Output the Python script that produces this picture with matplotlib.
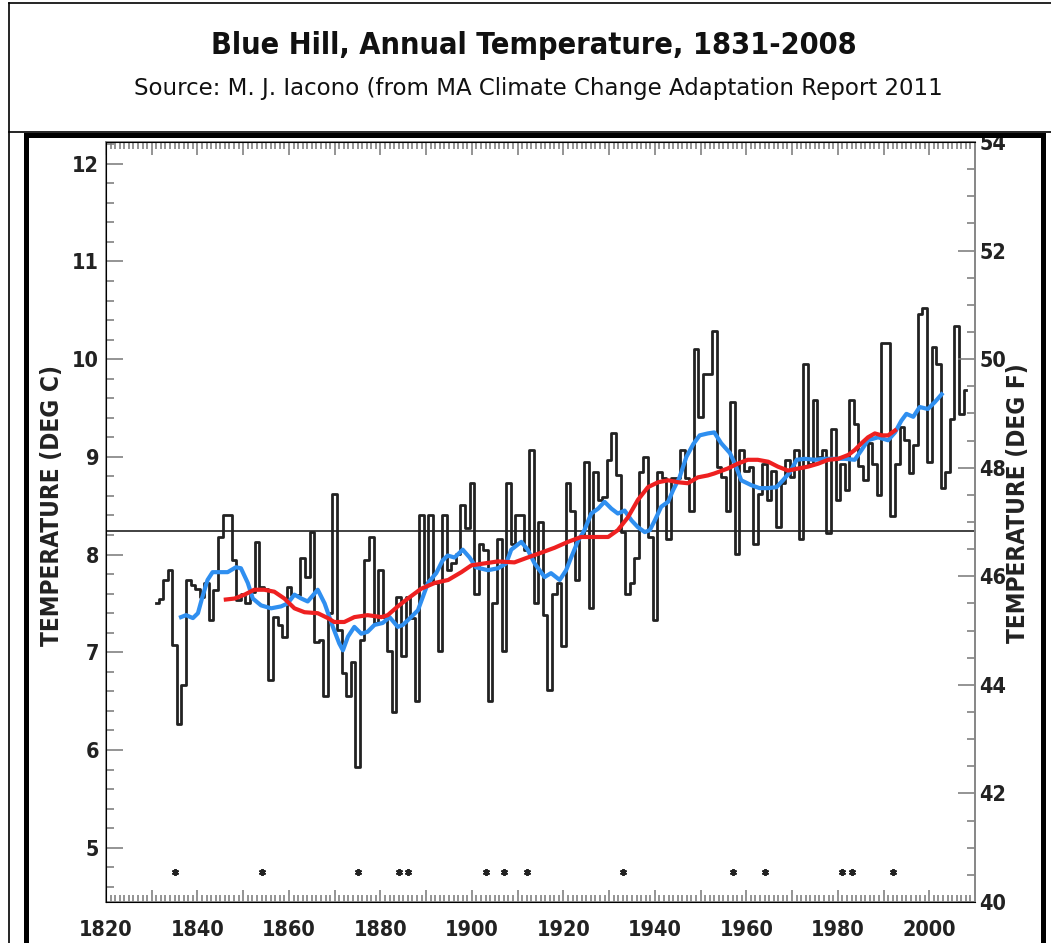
# Blue Hill annual temperature 1831-2008 (step chart + smoothers)
import numpy as np
import matplotlib
matplotlib.use('Agg')
import matplotlib.pyplot as plt
from matplotlib.lines import Line2D
from matplotlib.ticker import MultipleLocator
from matplotlib import font_manager
#==============================================================

first_year = 1831
# annual mean temperature (deg C), one value per year, 1831..2008
temps = [
    7.50, 7.55, 7.74, 7.84, 7.07, 6.27, 6.67, 7.74, 7.69, 7.65,   # 1831-1840
    7.57, 7.71, 7.33, 7.64, 8.18, 8.40, 8.40, 7.94, 7.53, 7.60,   # 1841-1850
    7.50, 7.62, 8.13, 7.67, 7.65, 6.72, 7.36, 7.28, 7.16, 7.67,   # 1851-1860
    7.59, 7.59, 7.96, 7.77, 8.23, 7.11, 7.13, 6.55, 7.40, 8.62,   # 1861-1870
    7.23, 6.79, 6.55, 6.90, 5.83, 7.13, 7.94, 8.18, 7.30, 7.84,   # 1871-1880
    7.36, 7.01, 6.39, 7.57, 6.96, 7.57, 7.35, 6.50, 8.40, 7.71,   # 1881-1890
    8.40, 7.71, 7.01, 8.40, 7.84, 7.91, 8.01, 8.51, 8.27, 8.73,   # 1891-1900
    7.60, 8.11, 8.05, 6.50, 7.50, 8.16, 7.01, 8.73, 8.11, 8.40,   # 1901-1910
    8.40, 8.05, 9.07, 7.50, 8.33, 7.38, 6.61, 7.60, 7.71, 7.06,   # 1911-1920
    8.73, 8.45, 7.74, 8.18, 8.95, 7.45, 8.85, 8.56, 8.59, 8.97,   # 1921-1930
    9.24, 8.81, 8.23, 7.60, 7.71, 7.96, 8.85, 9.00, 8.18, 7.33,   # 1931-1940
    8.85, 8.78, 8.16, 8.78, 8.78, 9.07, 8.78, 8.45, 10.10, 9.41,  # 1941-1950
    9.85, 9.85, 10.29, 8.90, 8.79, 8.45, 9.56, 8.01, 9.07, 8.86,  # 1951-1960
    8.90, 8.11, 8.62, 8.93, 8.56, 8.86, 8.28, 8.73, 8.97, 8.79,   # 1961-1970
    9.07, 8.16, 9.95, 8.93, 9.58, 9.00, 9.07, 8.22, 9.29, 8.56,   # 1971-1980
    8.93, 8.66, 9.58, 9.34, 8.91, 8.76, 9.14, 8.93, 8.61, 10.17,  # 1981-1990
    10.17, 8.39, 8.93, 9.31, 9.17, 8.83, 9.12, 10.46, 10.52, 8.95,  # 1991-2000
    10.12, 9.95, 8.68, 8.85, 9.39, 10.34, 9.44, 9.68,             # 2001-2008
]

# short-term smoother (blue)
blue_yr = [1836.4, 1837.5, 1839.0, 1840.1, 1841.1, 1842.2, 1843.3, 1846.6, 1848.4, 1849.5,
           1851.0, 1852.1, 1853.9, 1856.1, 1858.3, 1859.7, 1861.2, 1862.7, 1864.1, 1866.3,
           1867.8, 1869.6, 1871.0, 1871.8, 1872.9, 1874.3, 1875.8, 1877.2, 1878.7, 1880.5,
           1882.0, 1883.8, 1884.9, 1886.7, 1888.2, 1890.4, 1892.2, 1893.6, 1894.7, 1896.2,
           1898.0, 1899.5, 1900.9, 1903.5, 1905.7, 1907.5, 1908.6, 1910.8, 1912.2, 1913.7,
           1915.9, 1917.3, 1919.2, 1920.6, 1921.7, 1923.2, 1924.6, 1926.1, 1927.6, 1929.0,
           1930.5, 1931.9, 1933.4, 1934.9, 1936.3, 1937.8, 1938.9, 1940.0, 1941.4, 1942.9,
           1944.0, 1945.4, 1946.9, 1948.4, 1949.8, 1951.6, 1953.0, 1954.5, 1956.4, 1957.5,
           1958.9, 1961.1, 1962.9, 1964.8, 1966.6, 1968.0, 1969.5, 1971.0, 1972.8, 1975.0,
           1977.1, 1979.3, 1981.5, 1983.7, 1985.2, 1986.6, 1988.8, 1991.0, 1992.5, 1993.9,
           1995.0, 1996.5, 1997.9, 1999.7, 2001.2, 2002.7]
blue_val = [7.36, 7.38, 7.35, 7.40, 7.57, 7.74, 7.82, 7.82, 7.87, 7.86,
            7.71, 7.55, 7.48, 7.45, 7.47, 7.50, 7.59, 7.55, 7.52, 7.64,
            7.50, 7.26, 7.09, 7.02, 7.16, 7.26, 7.19, 7.21, 7.28, 7.30,
            7.36, 7.26, 7.28, 7.36, 7.43, 7.71, 7.81, 7.94, 7.99, 7.97,
            8.05, 7.97, 7.87, 7.84, 7.86, 7.91, 8.05, 8.13, 8.05, 7.91,
            7.77, 7.81, 7.74, 7.84, 7.97, 8.14, 8.25, 8.42, 8.47, 8.54,
            8.47, 8.42, 8.45, 8.35, 8.28, 8.23, 8.25, 8.35, 8.49, 8.54,
            8.66, 8.79, 9.00, 9.13, 9.22, 9.24, 9.25, 9.14, 9.04, 8.93,
            8.76, 8.71, 8.68, 8.68, 8.69, 8.76, 8.84, 8.97, 8.98, 8.97,
            8.98, 8.98, 8.98, 8.97, 9.07, 9.17, 9.20, 9.17, 9.25, 9.37,
            9.44, 9.41, 9.51, 9.49, 9.56, 9.64]

# long-term smoother (red)
red_yr = [1846.2, 1848.1, 1850.3, 1852.4, 1854.6, 1856.8, 1859.0, 1861.2, 1863.4, 1866.3,
          1868.5, 1869.9, 1872.1, 1874.3, 1877.2, 1880.2, 1881.6, 1883.8, 1886.0, 1888.9,
          1891.9, 1894.8, 1897.7, 1899.9, 1902.8, 1905.7, 1909.3, 1912.2, 1915.2, 1918.1,
          1921.0, 1923.9, 1926.8, 1929.8, 1931.9, 1934.1, 1936.3, 1938.5, 1940.7, 1942.9,
          1945.1, 1947.2, 1949.4, 1951.6, 1953.0, 1955.9, 1958.1, 1960.3, 1962.5, 1964.8,
          1966.9, 1969.1, 1971.3, 1973.5, 1975.7, 1977.9, 1980.1, 1982.3, 1983.7, 1985.2,
          1986.6, 1988.1, 1989.6, 1991.0, 1992.5]
red_val = [7.54, 7.55, 7.59, 7.64, 7.64, 7.62, 7.55, 7.45, 7.41, 7.40,
           7.35, 7.31, 7.31, 7.36, 7.38, 7.36, 7.38, 7.47, 7.55, 7.65,
           7.71, 7.74, 7.82, 7.89, 7.91, 7.93, 7.92, 7.97, 8.02, 8.07,
           8.13, 8.18, 8.18, 8.18, 8.25, 8.38, 8.56, 8.69, 8.74, 8.76,
           8.74, 8.73, 8.79, 8.81, 8.83, 8.88, 8.93, 8.97, 8.97, 8.95,
           8.90, 8.86, 8.88, 8.90, 8.93, 8.97, 8.98, 9.02, 9.07, 9.14,
           9.20, 9.24, 9.22, 9.22, 9.27]

# years marked with an asterisk along the bottom
star_yr = [1835, 1854, 1875, 1884, 1886, 1903, 1907, 1912, 1933, 1957, 1964, 1981, 1983, 1992]
star_level = 4.75
mean_line = 8.24

xtick_pos = [1820, 1830, 1840, 1850, 1860, 1870, 1880, 1890, 1900, 1910,
             1920, 1930, 1940, 1950, 1960, 1970, 1980, 1990, 2000, 2010]
xtick_lab = ['1820', '', '1840', '', '1860', '', '1880', '', '1900', '',
             '1920', '', '1940', '', '1960', '', '1980', '', '2000', '']
yC_ticks = [5, 6, 7, 8, 9, 10, 11, 12]
yF_ticks = [40, 42, 44, 46, 48, 50, 52, 54]

title = 'Blue Hill, Annual Temperature, 1831-2008'
subtitle = 'Source: M. J. Iacono (from MA Climate Change Adaptation Report 2011'
#==============================================================

def main():
    W, H = 1051, 943
    fig = plt.figure(figsize=(W/100, H/100), dpi=100)
    fig.patch.set_facecolor('white')

    # condensed bold face for the numbers and axis titles
    fp_num = font_manager.FontProperties(family=['DejaVu Sans'], weight='bold',
                                         stretch='condensed', size=15.5)
    fp_title = font_manager.FontProperties(family=['DejaVu Sans'], weight='bold',
                                           stretch='condensed', size=22)
    fp_sub = font_manager.FontProperties(family=['DejaVu Sans'], size=16.5)
    fp_lab = font_manager.FontProperties(family=['DejaVu Sans'], weight='bold',
                                         stretch='condensed', size=17.5)

    # frames around the header and the chart
    def px(x, y):
        return x/W, 1 - y/H
    x0, y0 = px(9, 3)
    fig.add_artist(Line2D([x0, x0], [0, y0], color='black', lw=1.2))
    fig.add_artist(Line2D([x0, 1], [y0, y0], color='black', lw=1.2))
    fig.add_artist(Line2D([x0, 1], [px(0, 132)[1]]*2, color='black', lw=1.2))
    l, t = px(26, 135)
    r, _ = px(1043, 0)
    fig.add_artist(Line2D([l, l, r, r], [0, t, t, 0], color='black', lw=3.6,
                          solid_joinstyle='miter'))

    fig.text(0.508, px(0, 46)[1], title, ha='center', va='center',
             fontproperties=fp_title, color='#111')
    fig.text(0.512, px(0, 89)[1], subtitle, ha='center', va='center',
             fontproperties=fp_sub, color='#111')

    ax = fig.add_axes([106/W, 1 - 902/H, (975-106)/W, (902-142)/H])
    years = np.arange(first_year, first_year + len(temps))

    ax.axhline(mean_line, color='#333', lw=1.3)
    ax.step(years, temps, where='mid', color='#222', lw=2.0)
    ax.plot(blue_yr, blue_val, color='#2f8ff0', lw=3.0)
    ax.plot(red_yr, red_val, color='#ee2020', lw=3.0)
    ax.plot(star_yr, [star_level]*len(star_yr), ls='', marker=(6, 2, 0), ms=5,
            mew=1.4, color='#222')

    ax.set_xlim(1820, 2010)
    ax.set_ylim((40-32)*5/9, (54-32)*5/9)
    ax.set_xticks(xtick_pos)
    ax.set_xticklabels(xtick_lab)
    ax.xaxis.set_minor_locator(MultipleLocator(1))
    ax.set_yticks(yC_ticks)
    ax.yaxis.set_minor_locator(MultipleLocator(0.2))
    ax.tick_params(axis='x', which='both', direction='in', top=True, bottom=True,
                   color='#777', width=1.1, pad=13)
    ax.tick_params(axis='x', which='major', length=9)
    ax.tick_params(axis='x', which='minor', length=5)
    ax.tick_params(axis='y', which='both', direction='in', right=False,
                   color='#777', width=1.1, pad=5)
    ax.tick_params(axis='y', which='major', length=12)
    ax.tick_params(axis='y', which='minor', length=6)
    for s in ax.spines.values():
        s.set_color('#888')
        s.set_linewidth(1.3)
    for lb in ax.get_xticklabels() + ax.get_yticklabels():
        lb.set_fontproperties(fp_num)
        lb.set_color('#222')

    ax2 = ax.twinx()
    ax2.set_ylim(40, 54)
    ax2.set_yticks(yF_ticks)
    ax2.yaxis.set_minor_locator(MultipleLocator(0.5))
    ax2.tick_params(axis='y', which='both', direction='in', color='#777', width=1.1, pad=3)
    ax2.tick_params(axis='y', which='major', length=12)
    ax2.tick_params(axis='y', which='minor', length=6)
    ax2.spines['right'].set_color('#888')
    ax2.spines['right'].set_linewidth(1.3)
    for lb in ax2.get_yticklabels():
        lb.set_fontproperties(fp_num)
        lb.set_color('#222')

    fig.text(52/W, 1 - 506/H, 'TEMPERATURE (DEG C)', rotation=90, ha='center', va='center',
             fontproperties=fp_lab, color='#222')
    fig.text(1018/W, 1 - 503/H, 'TEMPERATURE (DEG F)', rotation=90, ha='center', va='center',
             fontproperties=fp_lab, color='#222')

    plt.savefig('out.png', dpi=100)


if __name__ == '__main__':

    main()
